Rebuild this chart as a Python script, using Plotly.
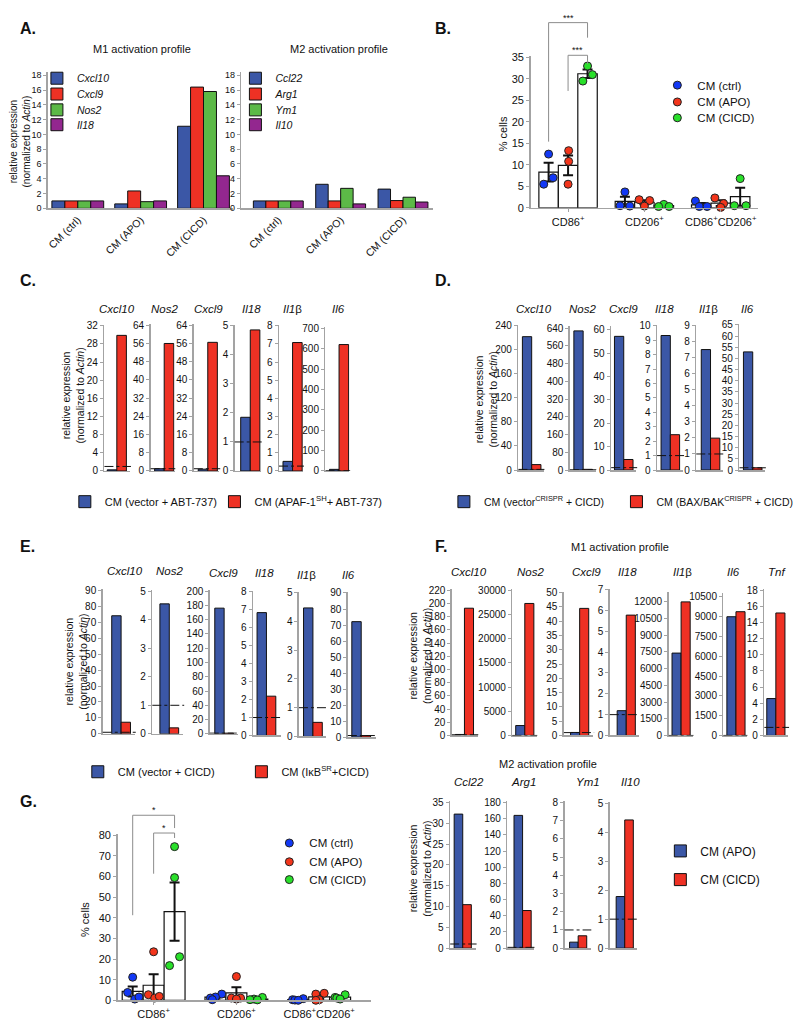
import plotly.graph_objects as go

W, H = 800, 1035
FONT = "Liberation Sans, Arial, Helvetica, sans-serif"
TXT = "#111111"
AXC = "#a3a3a3"
BLUE = "#3b57a6"
RED = "#ee3124"
GREEN = "#5cb947"
PURPLE = "#93278f"
PT_COLORS = ["#1238f5", "#f3351b", "#29e02a"]

# ---------------- Panel A data ----------------
A_groups = ["CM (ctrl)", "CM (APO)", "CM (CICD)"]
A_m1_genes = ["Cxcl10", "Cxcl9", "Nos2", "Il18"]
A_m1_cxcl10 = [1.0, 0.6, 11.1]
A_m1_cxcl9 = [1.0, 2.35, 16.4]
A_m1_nos2 = [1.0, 0.9, 15.8]
A_m1_il18 = [1.0, 1.0, 4.4]
A_m2_genes = ["Ccl22", "Arg1", "Ym1", "Il10"]
A_m2_ccl22 = [1.0, 3.25, 2.6]
A_m2_arg1 = [1.0, 1.0, 1.05]
A_m2_ym1 = [1.0, 2.7, 1.5]
A_m2_il10 = [1.0, 0.6, 0.85]

# ---------------- Panels B / G data ----------------
FC_cats = ["CD86<sup>+</sup>", "CD206<sup>+</sup>", "CD86<sup>+</sup>CD206<sup>+</sup>"]
FC_groups = ["CM (ctrl)", "CM (APO)", "CM (CICD)"]

B_mean_ctrl = [8.3, 1.5, 0.7]
B_mean_apo = [9.9, 1.3, 1.1]
B_mean_cicd = [31.2, 0.5, 2.6]
B_sem_ctrl = [2.2, 1.1, 0.45]
B_sem_apo = [2.3, 0.45, 0.65]
B_sem_cicd = [1.0, 0.2, 2.1]
B_pts_ctrl = [[12.5, 5.5, 7.0], [3.7, 0.5, 0.4], [1.6, 0.3, 0.3]]
B_pts_apo = [[13.3, 10.8, 5.5], [1.9, 1.7, 0.4], [2.3, 1.0, 0.1]]
B_pts_cicd = [[33.0, 31.0, 29.5], [0.8, 0.3, 0.3], [6.8, 0.5, 0.5]]

G_mean_ctrl = [4.3, 1.5, 0.3]
G_mean_apo = [7.3, 3.6, 1.7]
G_mean_cicd = [42.9, 0.6, 1.5]
G_sem_ctrl = [2.4, 0.6, 0.2]
G_sem_apo = [5.3, 2.7, 0.9]
G_sem_cicd = [14.1, 0.3, 0.45]
G_pts_ctrl = [[11.2, 3.8, 0.6, 1.6], [3.0, 1.6, 1.1, 0.3], [0.8, 0.3, 0.1, 0.0]]
G_pts_apo = [[23.5, 2.7, 1.1, 1.9], [11.5, 1.1, 1.1, 0.6], [3.4, 3.0, 0.3, 0.0]]
G_pts_cicd = [[74.4, 59.4, 16.8, 21.1], [1.4, 0.6, 0.3, 0.2], [2.7, 1.4, 1.1, 0.6]]

# ---------------- Panel C data ----------------
C_genes = ["Cxcl10", "Nos2", "Cxcl9", "Il18", "Il1β", "Il6"]
C_names = ["CM (vector + ABT-737)", "CM (APAF-1<sup>SH</sup>+ ABT-737)"]
C_vector = [0.25, 1.0, 0.8, 1.85, 0.53, 8]
C_apaf = [29.9, 56.0, 56.5, 4.86, 7.08, 620]
C_ref = [1, 1, 1, 1, 0.27, 1]
C_ytop = [32, 64, 64, 5, 8, 700]
C_dtick = [4, 8, 8, 1, 1, 100]

# ---------------- Panel D data ----------------
D_genes = ["Cxcl10", "Nos2", "Cxcl9", "Il18", "Il1β", "Il6"]
D_names = ["CM (vector<sup>CRISPR</sup> + CICD)", "CM (BAX/BAK<sup>CRISPR</sup> + CICD)"]
D_vector = [222, 628, 57.2, 9.33, 7.52, 52.9]
D_bax = [9, 3, 4.5, 2.45, 1.99, 1.0]
D_ref = [1, 1, 1, 1, 1, 1]
D_ytop = [240, 640, 60, 10, 9, 65]
D_dtick = [40, 80, 10, 1, 1, 5]

# ---------------- Panel E data ----------------
E_genes = ["Cxcl10", "Nos2", "Cxcl9", "Il18", "Il1β", "Il6"]
E_names = ["CM (vector + CICD)", "CM (IκB<sup>SR</sup>+CICD)"]
E_vector = [74.1, 4.55, 176, 6.85, 4.47, 72.1]
E_ikb = [7.3, 0.21, 1.0, 2.19, 0.49, 1.0]
E_ref = [1, 1, 1, 1, 1, 1]
E_ytop = [90, 5, 200, 8, 5, 90]
E_dtick = [10, 1, 20, 1, 1, 10]

# ---------------- Panel F data ----------------
F_names = ["CM (APO)", "CM (CICD)"]
F_m1_genes = ["Cxcl10", "Nos2", "Cxcl9", "Il18", "Il1β", "Il6", "Tnf"]
F_m1_apo = [1.5, 2050, 1.05, 1.19, 7400, 9000, 4.58]
F_m1_cicd = [193, 27300, 44.5, 5.78, 12000, 9380, 15.2]
F_m1_ref = [1, 1, 1, 1, 1, 1, 1]
F_m1_ytop = [220, 30000, 50, 7, 12000, 10500, 18]
F_m1_dtick = [20, 5000, 5, 1, 1500, 1500, 2]
F_m2_genes = ["Ccl22", "Arg1", "Ym1", "Il10"]
F_m2_apo = [32.2, 164, 0.33, 1.78]
F_m2_cicd = [10.45, 46.5, 0.68, 4.42]
F_m2_ref = [1, 1, 1, 1]
F_m2_ytop = [35, 180, 8, 5]
F_m2_dtick = [5, 20, 1, 1]

# ======================= layout geometry (pixels) =======================
A_leg_y = [74, 90, 106, 121]
B_jit = [[[0, -0.25, 0.23], [0, -0.25, 0.25], [-0.3, -0.1, 0.3]],
         [[0.03, 0.03, 0], [-0.27, 0.27, 0], [-0.3, 0.15, 0]],
         [[0, 0.25, -0.24], [0, -0.27, 0.27], [0, -0.3, 0.3]]]
G_jit = [[[0, -0.24, 0.1, 0.3], [0.3, 0, -0.24, -0.15], [0.24, -0.27, -0.16, 0]],
         [[0, -0.25, 0.05, 0.27], [0, -0.24, 0.2, 0], [0.24, -0.16, 0, -0.16]],
         [[0, 0, -0.24, 0.24], [0.24, -0.16, -0.35, 0], [0.24, -0.24, -0.16, 0]]]

C_L = [102.7, 149, 192.3, 233.3, 277.7, 324.3]
C_bar0 = [105.5, 153, 196.7, 239.3, 281.7, 328.3]
C_R = [128.5, 173, 218, 260, 302, 348.3]
C_tickpx = [324.3, 323.7, 323.7, 324.3, 324.3, 326.7]
C_title_x = [115, 163, 207, 250, 291, 337]

D_L = [517.7, 569.3, 610.7, 656.7, 696, 739.3]
D_bar0 = [521.7, 573.3, 614, 660.7, 701, 743.3]
D_R = [543, 595, 636, 683, 722.7, 765]
D_tickpx = [324.3, 326.7, 328.3, 324.3, 324.3, 323.3]
D_toppx = [323.3, 324, 324, 323.3, 323.3, 322.3]
D_title_x = [533, 582, 623, 664, 708, 747]

E_L = [101, 150.7, 208.3, 251.7, 297.7, 346.7]
E_bar0 = [110, 158.3, 213.3, 255.7, 302.3, 350.7]
E_R = [133.3, 181.7, 236.7, 280, 325, 375]
E_tickpx = [591.7, 592.3, 592.3, 593.3, 594, 594.3]
E_y0 = [736.7, 736.7, 736.7, 738.3, 739.3, 740]
E_title_x = [123, 168, 222, 263, 305, 347]
E_title_y = [572, 572, 574, 574, 576, 576]

F1_L = [451, 511.7, 563.3, 609.3, 668.3, 723.3, 764.3]
F1_bar0 = [454.5, 515, 570, 616.7, 671.7, 726.7, 766.7]
F1_R = [476.7, 536, 592.7, 638.3, 692.7, 746.7, 788.3]
F1_tickpx = [591.7, 591.7, 594, 591, 603.3, 598.3, 591.7]
F1_toppx = [590.7, 590.7, 593, 590, 593.3, 594, 590.7]
F1_title_x = [468, 530, 586, 627, 682, 733, 777]

F2_L = [449.3, 506.7, 564, 609.3]
F2_bar0 = [453.3, 513.3, 569, 615.7]
F2_R = [475, 533.3, 590, 636.7]
F2_tickpx = [806, 806, 806, 806.7]
F2_title_x = [468, 523, 587, 630]

fig = go.Figure()
layout_axes = {}
legends = {}
shapes = []
annotations = []
_ax = [0]
_lg = [0]


def new_axes(L, R, top, bottom, xcfg, ycfg):
    _ax[0] += 1
    s = "" if _ax[0] == 1 else str(_ax[0])
    layout_axes["xaxis" + s] = dict(domain=[L / W, R / W], anchor="y" + s, fixedrange=True, **xcfg)
    layout_axes["yaxis" + s] = dict(domain=[1 - bottom / H, 1 - top / H], anchor="x" + s, fixedrange=True, **ycfg)
    return "x" + s, "y" + s


def new_legend(text_x, y, size=11):
    _lg[0] += 1
    key = "legend" if _lg[0] == 1 else "legend%d" % _lg[0]
    legends[key] = dict(x=(text_x - 40) / W, y=1 - y / H, xanchor="left", yanchor="middle",
                        bgcolor="rgba(0,0,0,0)", borderwidth=0,
                        font=dict(family=FONT, size=size, color=TXT))
    return key


def ann(text, x, y, size=11, **kw):
    d = dict(text=text, x=x / W, y=1 - y / H, xref="paper", yref="paper", showarrow=False,
             xanchor="center", yanchor="middle",
             font=dict(family=FONT, size=size, color=TXT))
    d.update(kw)
    annotations.append(d)


def y_axis(rng, dtick, size=10, fmt=None):
    d = dict(range=rng, tick0=0, dtick=dtick, showline=True, linecolor=AXC, linewidth=1.5,
             ticks="outside", ticklen=3, tickwidth=1, tickcolor=AXC, showgrid=False, zeroline=False,
             tickfont=dict(family=FONT, size=size, color=TXT))
    if fmt:
        d["tickformat"] = fmt
    return d


def gene_html(g):
    if g.endswith("β"):
        return "<i>%s</i>β" % g[:-1]
    return "<i>%s</i>" % g


def ytitle(x, y, size=10.5):
    ann("relative expression<br>(normalized to <i>Actin</i>)", x, y, size=size, textangle=-90)


# ======================= Panel A =======================
def panel_a(L, R, lo, hi, bw, genes, series, leg_text_x):
    y0, tick_px, ymax = 205.5, 71.0, 18.4
    scale = (y0 - tick_px) / 18
    top = y0 - ymax * scale
    xa, ya = new_axes(L, R, top, y0,
                      dict(type="category", categoryorder="array", categoryarray=A_groups, range=[lo, hi],
                           showline=True, linecolor=AXC, linewidth=1.5, ticks="", tickangle=-45,
                           tickfont=dict(family=FONT, size=10.5, color=TXT), showgrid=False, zeroline=False),
                      y_axis([0, ymax], 2, size=9))
    for k, (g, vals, col) in enumerate(zip(genes, series, [BLUE, RED, GREEN, PURPLE])):
        lg = new_legend(leg_text_x, A_leg_y[k], size=10.5)
        fig.add_trace(go.Bar(x=A_groups, y=vals, width=bw, offset=(k - 2) * bw, name=gene_html(g),
                             marker=dict(color=col, line=dict(color="#111", width=1)),
                             xaxis=xa, yaxis=ya, legend=lg, hoverinfo="skip"))


panel_a(46, 232, -0.476, 2.476, 0.206, A_m1_genes, [A_m1_cxcl10, A_m1_cxcl9, A_m1_nos2, A_m1_il18], 75)
panel_a(240, 432, -0.592, 2.48, 0.2, A_m2_genes, [A_m2_ccl22, A_m2_arg1, A_m2_ym1, A_m2_il10], 274)
ann("M1 activation profile", 140, 44, size=11)
ann("M2 activation profile", 338, 44, size=11)
ytitle(18, 138, size=10)
ann("<b>A.</b>", 16, 24, size=16, xanchor="left")


# ======================= Panels B & G =======================
def bracket(xa, ya, ymax, xl, xr, top, lb, rb, label):
    for (x0, y0_, x1, y1) in [(xl, lb, xl, top), (xl, top, xr, top), (xr, top, xr, rb)]:
        shapes.append(dict(type="line", xref=xa, yref=ya + " domain", x0=x0, x1=x1,
                           y0=y0_ / ymax, y1=y1 / ymax, line=dict(color="#8c8c8c", width=1)))
    annotations.append(dict(text=label, xref=xa, yref=ya + " domain", x=(xl + xr) / 2, y=top / ymax,
                            xanchor="center", yanchor="bottom", showarrow=False, yshift=-2,
                            font=dict(size=9, color=TXT, family=FONT)))


def dot_panel(L, R, y0, tick_px, tick_val, ymax, dtick, lo, hi, bw, means, sems, pts, jits,
              leg_text_x, leg_ys, brackets):
    scale = (y0 - tick_px) / tick_val
    top = y0 - ymax * scale
    xa, ya = new_axes(L, R, top, y0,
                      dict(range=[lo, hi], tickmode="array", tickvals=[0, 1, 2], ticktext=FC_cats,
                           showline=True, linecolor=AXC, linewidth=1.5, ticks="outside", ticklen=3,
                           tickcolor=AXC, tickfont=dict(family=FONT, size=11, color=TXT),
                           showgrid=False, zeroline=False),
                      y_axis([0, ymax], dtick, size=11))
    offs = [-bw, 0, bw]
    for g in range(3):
        fig.add_trace(go.Bar(x=[c + offs[g] for c in range(3)], y=means[g], width=bw,
                             marker=dict(color="white", line=dict(color="#111", width=1.2)),
                             error_y=dict(type="data", array=sems[g], color="#111", thickness=2, width=5),
                             showlegend=False, xaxis=xa, yaxis=ya, hoverinfo="skip"))
    for g in range(3):
        xs, ys = [], []
        for c in range(3):
            for v, j in zip(pts[g][c], jits[g][c]):
                xs.append(c + offs[g] + j * bw)
                ys.append(v)
        lg = new_legend(leg_text_x, leg_ys[g], size=11.5)
        fig.add_trace(go.Scatter(x=xs, y=ys, mode="markers", name=FC_groups[g], cliponaxis=False,
                                 marker=dict(color=PT_COLORS[g], size=8, line=dict(color="#222", width=1)),
                                 xaxis=xa, yaxis=ya, legend=lg, hoverinfo="skip"))
    for (gl, gr, tp, lb, rb, lab) in brackets:
        bracket(xa, ya, ymax, offs[gl], offs[gr], tp, lb, rb, lab)


dot_panel(530, 758, 205, 53, 35, 35.3, 5, -0.49, 2.49, 0.255,
          [B_mean_ctrl, B_mean_apo, B_mean_cicd], [B_sem_ctrl, B_sem_apo, B_sem_cicd],
          [B_pts_ctrl, B_pts_apo, B_pts_cicd], B_jit, 697, [81, 98, 114],
          [(0, 2, 43.1, 15.4, 39.6, "***"), (1, 2, 35.5, 27.2, 33.4, "***")])
ann("% cells", 502, 130, size=11, textangle=-90)
ann("<b>B.</b>", 432, 24, size=16, xanchor="left")

dot_panel(116, 370, 1006, 839, 80, 80.6, 10, -0.434, 2.627, 0.253,
          [G_mean_ctrl, G_mean_apo, G_mean_cicd], [G_sem_ctrl, G_sem_apo, G_sem_cicd],
          [G_pts_ctrl, G_pts_apo, G_pts_cicd], G_jit, 308, [847, 866, 884],
          [(0, 2, 89.6, 41.2, 83.4, "*"), (1, 2, 81.0, 61.3, 78.6, "*")])
ann("% cells", 83, 924, size=11, textangle=-90)
ann("<b>G.</b>", 16, 805, size=16, xanchor="left")


# ======================= mini bar panels (C–F) =======================
def mini(L, R, bar0, bw, y0, tick_px, tick_val, top_px, dtick, v1, v2, ref, legs=None, names=None):
    ymax = tick_val * (y0 - top_px) / (y0 - tick_px)
    lo = -0.5 - (bar0 - L) / bw
    hi = lo + (R - L) / bw
    xa, ya = new_axes(L, R, top_px, y0,
                      dict(range=[lo, hi], showline=True, linecolor=AXC, linewidth=1.5,
                           showticklabels=False, ticks="", showgrid=False, zeroline=False),
                      y_axis([0, ymax], dtick, size=10, fmt="d"))
    for i, (v, col) in enumerate(zip([v1, v2], [BLUE, RED])):
        kw = dict(showlegend=False)
        if legs:
            kw = dict(showlegend=True, legend=legs[i], name=names[i])
        fig.add_trace(go.Bar(x=[i], y=[v], width=1, marker=dict(color=col, line=dict(color="#111", width=1)),
                             xaxis=xa, yaxis=ya, hoverinfo="skip", **kw))
    shapes.append(dict(type="line", xref=xa + " domain", yref=ya, x0=0, x1=1.03, y0=ref, y1=ref,
                       line=dict(color="#111", width=1, dash="dashdot")))


# Panel C
legC = [new_legend(103, 502), new_legend(253, 502)]
for i in range(6):
    mini(C_L[i], C_R[i], C_bar0[i], 9.6, 471, C_tickpx[i], C_ytop[i], C_tickpx[i] - 1, C_dtick[i],
         C_vector[i], C_apaf[i], C_ref[i], legs=legC if i == 0 else None, names=C_names)
    ann(gene_html(C_genes[i]), C_title_x[i], 307, size=11.5)
ytitle(71, 395)
ann("<b>C.</b>", 16, 278, size=16, xanchor="left")

# Panel D
legD = [new_legend(483, 502, size=10.5), new_legend(656, 502, size=10.5)]
for i in range(6):
    mini(D_L[i], D_R[i], D_bar0[i], 9.3, 470, D_tickpx[i], D_ytop[i], D_toppx[i], D_dtick[i],
         D_vector[i], D_bax[i], D_ref[i], legs=legD if i == 0 else None, names=D_names)
    ann(gene_html(D_genes[i]), D_title_x[i], 307, size=11.5)
ytitle(485, 399)
ann("<b>D.</b>", 432, 278, size=16, xanchor="left")

# Panel E
legE = [new_legend(116, 775), new_legend(280, 775)]
for i in range(6):
    mini(E_L[i], E_R[i], E_bar0[i], 9.4, E_y0[i], E_tickpx[i], E_ytop[i], E_tickpx[i] - 1, E_dtick[i],
         E_vector[i], E_ikb[i], E_ref[i], legs=legE if i == 0 else None, names=E_names)
    ann(gene_html(E_genes[i]), E_title_x[i], E_title_y[i], size=11.5)
ytitle(74, 664)
ann("<b>E.</b>", 16, 547, size=16, xanchor="left")

# Panel F (M1)
for i in range(7):
    mini(F1_L[i], F1_R[i], F1_bar0[i], 9.1, 738.3, F1_tickpx[i], F_m1_ytop[i], F1_toppx[i], F_m1_dtick[i],
         F_m1_apo[i], F_m1_cicd[i], F_m1_ref[i])
    ann(gene_html(F_m1_genes[i]), F1_title_x[i], 573, size=11.5)
ytitle(419, 658)
ann("M1 activation profile", 620, 548, size=11)
ann("<b>F.</b>", 432, 547, size=16, xanchor="left")

# Panel F (M2)
legF = [new_legend(700, 855, size=12), new_legend(700, 884, size=12)]
for i in range(4):
    mini(F2_L[i], F2_R[i], F2_bar0[i], 8.6, 953.3, F2_tickpx[i], F_m2_ytop[i], F2_tickpx[i] - 1, F_m2_dtick[i],
         F_m2_apo[i], F_m2_cicd[i], F_m2_ref[i], legs=legF if i == 0 else None, names=F_names)
    ann(gene_html(F_m2_genes[i]), F2_title_x[i], 785, size=11.5)
ytitle(419, 873)
ann("M2 activation profile", 547, 767, size=11)

fig.update_layout(width=W, height=H, margin=dict(l=0, r=0, t=0, b=0),
                  paper_bgcolor="white", plot_bgcolor="white", barmode="overlay",
                  showlegend=True, hovermode=False,
                  font=dict(family=FONT, size=11, color=TXT),
                  shapes=shapes, annotations=annotations, **layout_axes, **legends)

fig.write_html("out.html", config={"displayModeBar": False, "staticPlot": True},
               post_script="document.body.style.margin='0';document.body.style.padding='0';")
